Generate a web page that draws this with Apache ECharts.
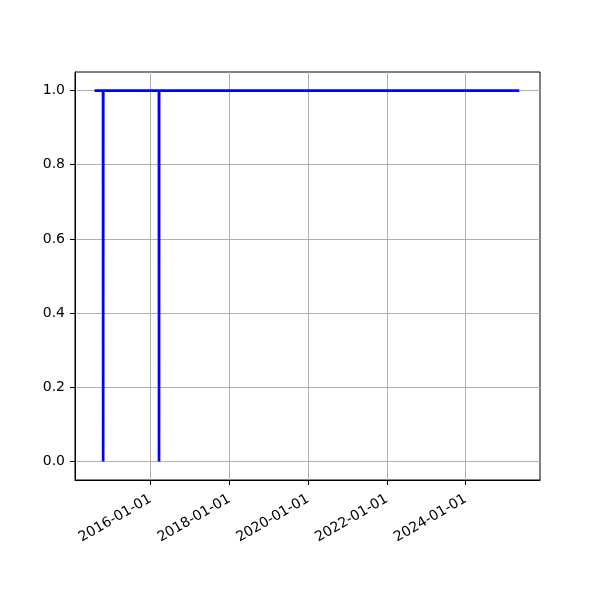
<!DOCTYPE html>
<html>
<head>
<meta charset="utf-8">
<script src="https://cdn.jsdelivr.net/npm/echarts@6/dist/echarts.min.js"></script>
<style>html,body{margin:0;padding:0;background:#fff}#c{width:600px;height:600px}</style>
</head>
<body>
<div id="c"></div>
<script>
// Data (step-like signal, mostly 1 with single-day dips to 0)
var dates = ['2014-08-01','2014-10-19','2014-10-20','2014-10-21','2016-03-20','2016-03-21','2016-03-22','2025-05-12'];
var values = [1, 1, 0, 1, 1, 0, 1, 1];
var xTickLabels = ['2016-01-01','2018-01-01','2020-01-01','2022-01-01','2024-01-01'];
var yTicks = [0.0, 0.2, 0.4, 0.6, 0.8, 1.0];

var xMin = Date.parse('2014-02-01T00:00:00Z');
var xMax = Date.parse('2025-11-20T00:00:00Z');
var xTickVals = xTickLabels.map(function(s){ return Date.parse(s + 'T00:00:00Z'); });
var seriesData = dates.map(function(d, i){ return [Date.parse(d + 'T00:00:00Z'), values[i]]; });

function pad(n){ return n < 10 ? '0' + n : '' + n; }
var chart = echarts.init(document.getElementById('c'), null, {renderer: 'canvas'});
chart.setOption({
  animation: false,
  backgroundColor: '#fff',
  grid: {left: 75, right: 60, top: 72, bottom: 120, show: true, borderColor: '#000', borderWidth: 1, backgroundColor: 'transparent', containLabel: false},
  xAxis: {
    type: 'value',
    min: xMin, max: xMax,
    axisLine: {show: true, onZero: false, lineStyle: {color: '#000', width: 1}},
    axisTick: {show: true, inside: false, length: 5, customValues: xTickVals, lineStyle: {color: '#000'}},
    axisLabel: {
      customValues: xTickVals,
      rotate: 30, color: '#000', fontSize: 14, fontFamily: 'DejaVu Sans', margin: 18,
      formatter: function(v){ var d = new Date(v); return d.getUTCFullYear() + '-' + pad(d.getUTCMonth()+1) + '-' + pad(d.getUTCDate()); }
    },
    splitLine: {show: true, lineStyle: {color: '#b0b0b0', width: 1}}
  },
  yAxis: {
    type: 'value',
    min: -0.05, max: 1.05,
    axisLine: {show: true, onZero: false, lineStyle: {color: '#000', width: 1}},
    axisTick: {show: true, inside: false, length: 5, customValues: yTicks, lineStyle: {color: '#000'}},
    axisLabel: {customValues: yTicks, color: '#000', fontSize: 14, fontFamily: 'DejaVu Sans', margin: 10,
      formatter: function(v){ return v.toFixed(1); }},
    splitLine: {show: true, lineStyle: {color: '#b0b0b0', width: 1}}
  },
  series: [{
    type: 'line',
    data: seriesData,
    showSymbol: false,
    lineStyle: {color: '#0000ff', width: 2.7},
    itemStyle: {color: '#0000ff'}
  }]
});
</script>
</body>
</html>
